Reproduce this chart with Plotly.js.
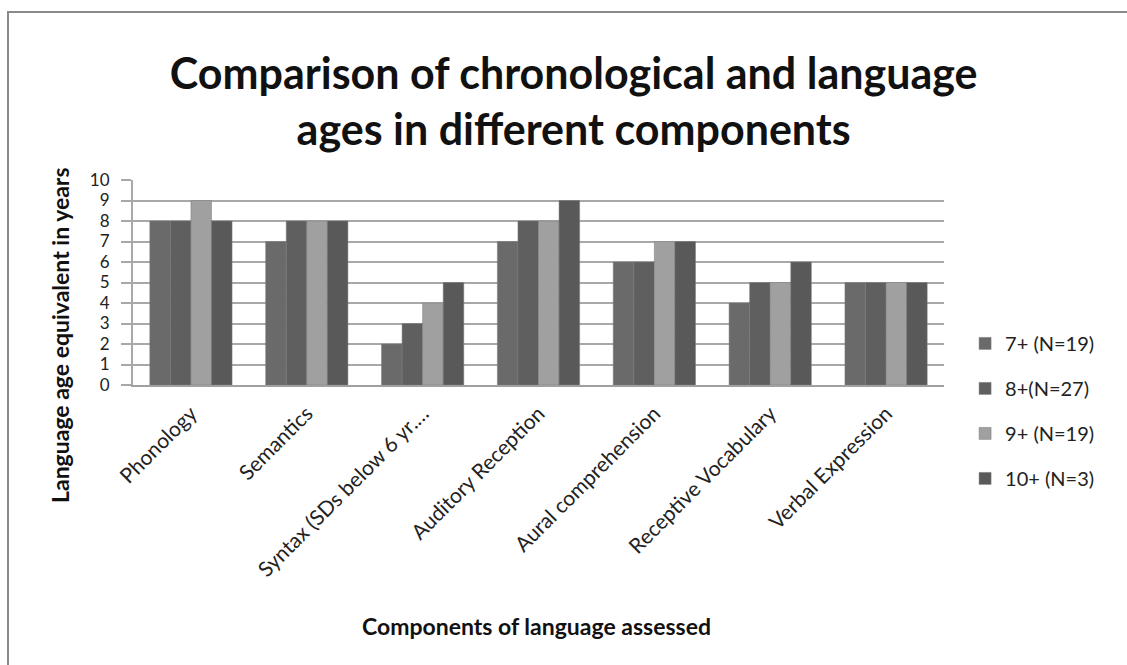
<!DOCTYPE html>
<html><head><meta charset="utf-8">
<script src="https://cdn.plot.ly/plotly-3.0.1.min.js"></script>
<style>
html,body{margin:0;padding:0;background:#fff;}
#frame{position:absolute;left:7px;top:11px;width:1140px;height:680px;border-left:2px solid #8a8a8a;border-top:2px solid #8a8a8a;}
#chart{position:absolute;left:0;top:0;width:1127px;height:665px;}
</style></head>
<body>
<div id="frame"></div>
<div id="chart"></div>
<script>
const categories = ["Phonology","Semantics","Syntax (SDs below 6 yr.…","Auditory Reception","Aural comprehension","Receptive Vocabulary","Verbal Expression"];
const seriesNames = ["7+ (N=19)","8+(N=27)","9+ (N=19)","10+ (N=3)"];
const s7 = [8,7,2,7,6,4,5];
const s8 = [8,8,3,8,6,5,5];
const s9 = [9,8,4,8,7,5,5];
const s10 = [8,8,5,9,7,6,5];
const yTicks = [0,1,2,3,4,5,6,7,8,9,10];
const colors = ["#6a6a6a","#5f5f5f","#a0a0a0","#595959"];
const allSeries = [s7,s8,s9,s10];
const font = "Lato, 'Open Sans', sans-serif";
const traces = allSeries.map((s,i)=>({
  type:"bar", x:categories, y:s, name:seriesNames[i],
  marker:{color:colors[i], line:{color:"#7a7a7a", width:0.5}},
  legendgroup:"g"+i
}));
const layout = {
  width:1127, height:665,
  paper_bgcolor:"rgba(0,0,0,0)", plot_bgcolor:"#fff",
  margin:{l:133, r:183, t:180, b:280},
  title:{text:"Comparison of chronological and language<br>ages in different components", font:{family:font, size:43, color:"#111", weight:"bold"}, x:0.509, xanchor:"center", yref:"container", y:0.866, yanchor:"middle"},
  barmode:"group", bargap:0.29, bargroupgap:0,
  xaxis:{type:"category", tickangle:-45, tickfont:{family:font, size:21, color:"#222"}, showline:true, linecolor:"#a0a0a0", linewidth:2, ticks:"outside", ticklen:6, tickcolor:"rgba(0,0,0,0)", automargin:false},
  yaxis:{range:[0,10], tickvals:yTicks, ticktext:yTicks.map(String), tickfont:{family:font, size:17, color:"#222"}, ticklabelstandoff:8,
    showgrid:true, gridcolor:"#a8a8a8", gridwidth:2, showline:true, linecolor:"#a8a8a8", linewidth:2,
    ticks:"outside", ticklen:10, tickcolor:"#a8a8a8", tickwidth:2, zeroline:false, automargin:false},
  annotations:[
    {text:"Language age equivalent in years", textangle:-90, xref:"paper", yref:"paper", x:-0.09, y:0.244, xanchor:"center", yanchor:"middle", showarrow:false, font:{family:font, size:23, color:"#111", weight:"bold"}},
    {text:"Components of language assessed", xref:"paper", yref:"paper", x:0.498, y:-1.176, xanchor:"center", yanchor:"middle", showarrow:false, font:{family:font, size:23, color:"#111", weight:"bold"}}
  ],
  legend:{x:1.026, xanchor:"left", y:0.298, yanchor:"top", font:{family:font, size:20, color:"#222"}, tracegroupgap:16, itemwidth:30, bgcolor:"rgba(0,0,0,0)"},
  showlegend:true
};
Plotly.newPlot("chart", traces, layout, {displayModeBar:false, staticPlot:true});
</script>
</body></html>
